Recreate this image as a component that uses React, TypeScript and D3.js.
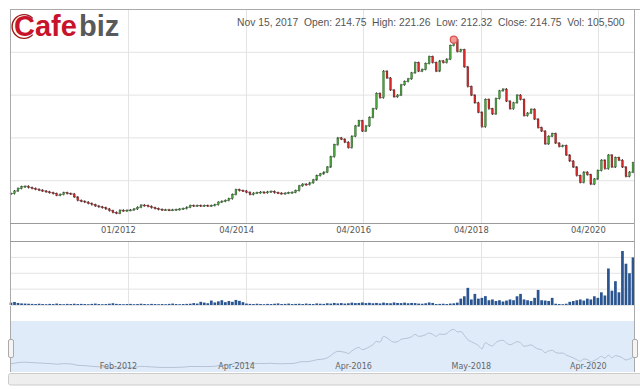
import React from 'react';
import * as d3 from 'd3';

// daily closes sampled along the chart (VND thousand)
const closes = [
  35, 38, 41, 43, 43.5, 42, 41, 40, 39, 38, 37, 36, 35, 33, 34, 36, 35, 34.5, 31, 27,
  26, 25, 23.5, 22, 20.5, 19.5, 18.5, 17, 15, 13, 12, 15.5, 15, 15.5, 15.8, 17, 19, 21.5, 21, 20,
  18.5, 17.5, 16.5, 16, 16, 15.6, 16, 16.2, 17, 17.5, 19, 21, 20.5, 21, 20.5, 21, 20.5, 21, 22, 25,
  26, 27, 29, 34, 39.5, 38.5, 38, 36.5, 34, 35.5, 36, 36.7, 36, 37, 37.5, 36, 35.5, 35, 35.5, 36,
  36.5, 38.5, 44, 46, 45.5, 47.5, 51, 56, 58, 60, 66, 78, 92, 100, 98.5, 95, 88.6, 102, 114, 120,
  108, 114, 124, 134, 152, 147, 178, 170, 156, 148, 150, 162, 166, 169, 176, 188, 178, 180, 187, 195,
  188, 178, 190, 188, 192, 208, 214.75, 201, 203, 183, 160, 150, 141, 130, 113, 145, 134, 128, 146, 155,
  157, 143, 134, 141, 150, 145, 126, 129, 133.5, 122, 112, 108, 93, 102, 105, 94, 90, 91, 80, 73,
  66, 56, 48, 60, 57, 46, 52, 62, 74, 64, 80, 66, 77, 74, 66, 55, 60, 71,
];

// volume, thousand shares
const volumes = [
  150, 190, 130, 100, 90, 80, 70, 60, 80, 60, 50, 70, 60, 90, 60, 50, 70, 60, 80, 60,
  70, 60, 50, 70, 90, 60, 50, 60, 80, 110, 70, 60, 50, 60, 70, 50, 60, 80, 60, 50,
  70, 60, 50, 60, 50, 70, 90, 60, 50, 60, 70, 80, 120, 90, 200, 150, 110, 280, 160, 230,
  300, 180, 250, 200, 320, 260, 180, 90, 70, 60, 80, 60, 50, 70, 60, 80, 100, 60, 70, 90,
  60, 70, 80, 60, 90, 70, 60, 100, 80, 70, 110, 90, 130, 100, 120, 90, 110, 150, 120, 130,
  160, 120, 140, 110, 130, 100, 150, 120, 110, 160, 130, 120, 150, 110, 130, 120, 90, 80, 110, 160,
  130, 60, 70, 80, 60, 90, 105.5, 150, 400, 550, 1080, 350, 700, 400, 450, 560, 300, 350, 250, 300,
  220, 280, 350, 300, 550, 700, 350, 300, 250, 450, 950, 300, 280, 250, 450, 80, 60, 50, 80, 200,
  250, 300, 350, 280, 400, 350, 550, 450, 800, 600, 2300, 900, 1500, 800, 3400, 2600, 2000, 3000,
];

const tickIdx = [33.3, 66.9, 100.2, 133.7, 167];
const tickLabels = ['01/2012', '04/2014', '04/2016', '04/2018', '04/2020'];
const navLabels = ['Feb-2012', 'Apr-2014', 'Apr-2016', 'May-2018', 'Apr-2020'];
const priceTicks = [50, 100, 150, 200];
const volTicks = [1000, 2000, 3000];
const headerParts = ['Nov 15, 2017', 'Open: 214.75', 'High: 221.26', 'Low: 212.32', 'Close: 214.75', 'Vol: 105,500'];
const markIndex = 126;

export default function App() {
  const x = d3.scaleLinear().domain([0, closes.length - 1]).range([11, 633]);
  const y = d3.scaleLinear().domain([0, 250]).range([223.5, 9.5]);
  const yv = d3.scaleLinear().domain([0, 4000]).range([305, 241.5]);
  const yn = d3.scaleLinear().domain([0, 250]).range([370.5, 322.5]);
  const step = x(1) - x(0);
  const cw = 1.8;

  const navLine = d3.line<number>().x((_, i) => x(i)).y(d => yn(d)).curve(d3.curveMonotoneX)(closes) || '';

  const ring = d3.arc()({ innerRadius: 11.2, outerRadius: 12.6, startAngle: Math.PI / 2 + 0.75, endAngle: Math.PI * 2.5 - 0.75 }) || '';

  const grid = '#e3e3e3';
  const font = "'Liberation Sans', Arial, sans-serif";
  const tickFont = "'DejaVu Sans', Verdana, sans-serif";

  return (
    <svg width={640} height={389} style={{ position: 'absolute', left: 0, top: 0, background: '#fff' }}>
      {/* grid */}
      {priceTicks.map(t => (
        <line key={'pg' + t} x1={10} x2={634} y1={y(t)} y2={y(t)} stroke={grid} />
      ))}
      {volTicks.map(t => (
        <line key={'vg' + t} x1={10} x2={634} y1={yv(t)} y2={yv(t)} stroke={grid} />
      ))}
      {tickIdx.map(t => (
        <g key={'xg' + t}>
          <line x1={Math.round(x(t)) + 0.5} x2={Math.round(x(t)) + 0.5} y1={9.5} y2={223.5} stroke={grid} />
          <line x1={Math.round(x(t)) + 0.5} x2={Math.round(x(t)) + 0.5} y1={241.5} y2={305} stroke={grid} />
        </g>
      ))}

      {/* candles */}
      {closes.map((c, i) => {
        const o = i === 0 ? c : closes[i - 1];
        const up = c >= o;
        const top = y(Math.max(o, c));
        const bot = y(Math.min(o, c));
        const cx = x(i);
        return (
          <g key={'c' + i}>
            <line x1={cx} x2={cx} y1={top - 1} y2={bot + 1} stroke="#333" strokeWidth={1} />
            <rect x={cx - cw / 2} y={top} width={cw} height={Math.max(1, bot - top)}
              fill={up ? '#4aa43c' : '#d42a2a'} stroke={up ? '#2f5f2a' : '#6e1c1c'} strokeWidth={0.4} />
          </g>
        );
      })}
      {closes.map((c, i) => i === 0 ? null : (
        <line key={'k' + i} x1={x(i - 1) + cw / 2} x2={x(i) - cw / 2} y1={y(closes[i - 1])} y2={y(closes[i - 1])} stroke="#333" strokeWidth={0.6} />
      ))}
      <circle cx={x(markIndex)} cy={y(closes[markIndex])} r={3.5} fill="#f29a9a" stroke="#d9534f" strokeWidth={1.2} />

      {/* volume */}
      {volumes.map((v, i) => (
        <rect key={'v' + i} x={x(i) - (step - 0.8) / 2} y={yv(v)} width={step - 0.8} height={yv(0) - yv(v)} fill="#2b5591" />
      ))}

      {/* frame */}
      <line x1={10} x2={640} y1={9.5} y2={9.5} stroke="#aaa" />
      <line x1={10.5} x2={10.5} y1={9.5} y2={372} stroke="#aaa" />
      <line x1={634.5} x2={634.5} y1={9.5} y2={372} stroke="#aaa" />
      <line x1={10} x2={634} y1={223.5} y2={223.5} stroke="#999" />
      <line x1={10} x2={634} y1={241.5} y2={241.5} stroke="#999" />
      <line x1={10} x2={634} y1={305.5} y2={305.5} stroke="#e6e6e6" />

      {/* x labels */}
      {tickIdx.map((t, i) => (
        <text key={'xl' + t} x={x(t) - 9.5} y={233} textAnchor="middle" fontFamily={tickFont} fontSize={8.4} fill="#555">
          {tickLabels[i]}
        </text>
      ))}

      {/* header */}
      <text x={237} y={26} fontFamily={font} fontSize={10.3} fill="#555">
        {headerParts.join('\u00a0\u00a0')}
      </text>

      {/* logo */}
      <path d={ring} transform="translate(24,26.5)" fill="#9e1a1a" />
      <text x={14} y={36} fontFamily={font} fontWeight="bold" fontSize={29} fill="#c8142a">Cafe</text>
      <text x={79} y={36} fontFamily={font} fontWeight="bold" fontSize={29} fill="#58595b">biz</text>

      {/* navigator */}
      <rect x={11} y={321} width={623} height={51} fill="#e0ebfa" />
      <path d={navLine} fill="none" stroke="#b4c2d4" strokeWidth={1} />
      {tickIdx.map((t, i) => (
        <text key={'nl' + t} x={x(t) - 9.5} y={369} textAnchor="middle" fontFamily={tickFont} fontSize={8} fill="#666">
          {navLabels[i]}
        </text>
      ))}
      <rect x={8.5} y={339.5} width={5} height={18} rx={1.5} fill="#f4f4f4" stroke="#aaa" />
      <rect x={632.5} y={339.5} width={5} height={18} rx={1.5} fill="#f4f4f4" stroke="#aaa" />
      <rect x={8.5} y={373.5} width={640} height={11.5} rx={2} fill="#eeeeee" stroke="#cccccc" />
    </svg>
  );
}
